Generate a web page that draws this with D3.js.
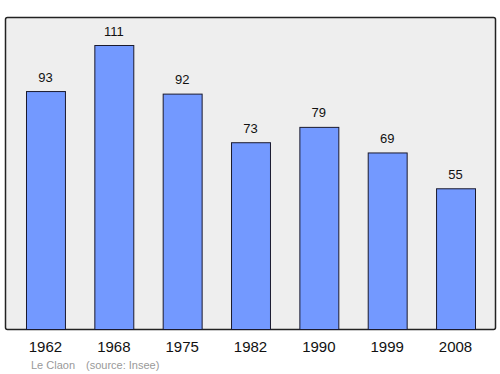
<!DOCTYPE html>
<html>
<head>
<meta charset="utf-8">
<script src="https://cdn.jsdelivr.net/npm/d3@7"></script>
<style>
  body { margin: 0; background: #fff; }
  svg text { font-family: "Liberation Sans", Arial, sans-serif; }
</style>
</head>
<body>
<svg width="500" height="374"></svg>
<script>
let years = ["1962", "1968", "1975", "1982", "1990", "1999", "2008"];
let population = [93, 111, 92, 73, 79, 69, 55];
let place = "Le Claon";
let source = "(source: Insee)";

let svg = d3.select("svg");

// plot frame
svg.append("rect")
	.attr("x", 5.5)
	.attr("y", 17.5)
	.attr("width", 490)
	.attr("height", 312)
	.attr("rx", 2)
	.attr("fill", "#eeeeee")
	.attr("stroke", "#222")
	.attr("stroke-width", 1.5);

let x = d3.scaleBand()
	.domain(years)
	.range([11.3, 489.7])
	.paddingInner(0.43)
	.paddingOuter(0.215);

let y = d3.scaleLinear()
	.domain([0, 111])
	.range([329.5, 45.5]);

let data = years.map((d, i) => ({year: d, value: population[i]}));

svg.selectAll(".bar")
	.data(data)
	.enter()
	.append("rect")
	.attr("class", "bar")
	.attr("x", d => x(d.year) + 0.5)
	.attr("y", d => y(d.value))
	.attr("width", x.bandwidth())
	.attr("height", d => y(0) - y(d.value))
	.attr("fill", "#7399ff")
	.attr("stroke", "#1a1a2e")
	.attr("stroke-width", 1);

svg.selectAll(".val")
	.data(data)
	.enter()
	.append("text")
	.attr("class", "val")
	.attr("x", d => x(d.year) + x.bandwidth() / 2)
	.attr("y", d => y(d.value) - 10)
	.attr("text-anchor", "middle")
	.style("font-size", "13px")
	.attr("fill", "#111")
	.text(d => d.value);

svg.selectAll(".yr")
	.data(years)
	.enter()
	.append("text")
	.attr("class", "yr")
	.attr("x", d => x(d) + x.bandwidth() / 2)
	.attr("y", 352)
	.attr("text-anchor", "middle")
	.style("font-size", "15px")
	.attr("fill", "#111")
	.text(d => d);

svg.append("text")
	.attr("x", 31)
	.attr("y", 369)
	.style("font-size", "11px")
	.attr("fill", "#999")
	.text(place);

svg.append("text")
	.attr("x", 86)
	.attr("y", 369)
	.style("font-size", "11px")
	.attr("fill", "#999")
	.text(source);
</script>
</body>
</html>
